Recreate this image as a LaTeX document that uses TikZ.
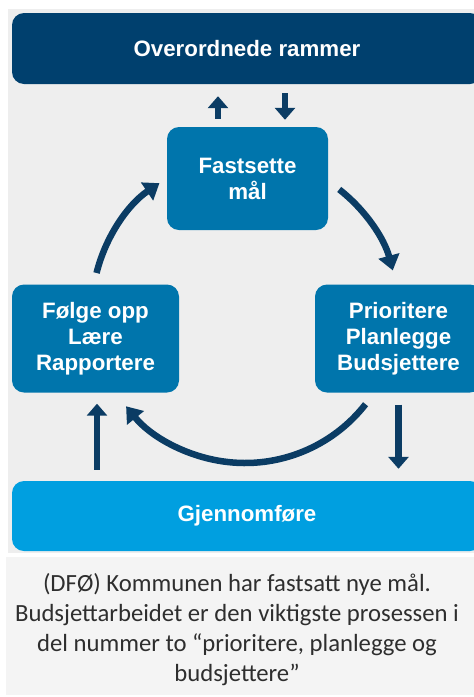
\documentclass[tikz,border=0pt]{standalone}
\usepackage{fontspec}
\setmainfont{Liberation Sans}
\newfontfamily\captionfont{Carlito}
\usetikzlibrary{
    arrows.meta,
    calc
}
\definecolor{navy}{HTML}{00406E}
\definecolor{stegblue}{HTML}{0075AC}
\definecolor{lightblue}{HTML}{009FE0}
\definecolor{arrowblue}{HTML}{0B3C64}
\definecolor{panel}{HTML}{EEEEEE}
\definecolor{capbg}{HTML}{F4F4F4}
\definecolor{captext}{HTML}{2E2E2E}

\tikzset{
    boks/.style={rounded corners=12pt, text=white, align=center, inner sep=0pt,
        font=\fontsize{22.3}{26}\selectfont\bfseries},
    ramme/.style={boks, fill=navy, minimum width=470pt, minimum height=71pt},
    steg/.style={boks, fill=stegblue, minimum width=167pt, minimum height=108pt},
    pil/.style={draw=arrowblue, line width=6.5pt, -{Triangle[width=20pt,length=12pt]}},
    ringpil/.style={draw=arrowblue, line width=6.5pt, -{Triangle[width=21pt,length=15pt]}}
}

\begin{document}
\begin{tikzpicture}[x=1pt, y=-1pt]
                        \useasboundingbox (0, 0) rectangle (474, 697);
                        \clip (0, 0) rectangle (474, 697);
                        \fill[panel] (8, 9) rectangle (474, 553);
                        \fill[capbg] (6, 557) rectangle (474, 695);
                        \node[ramme] (ramme) at (247, 48.5) {Overordnede rammer};
                        \node[steg, minimum width=161pt, minimum height=103pt] (mal) at (247.5, 178.5) {Fastsette\\mål};
                        \node[steg] (folge) at (95.5, 338.5) {Følge opp\\Lære\\Rapportere};
                        \node[steg] (prio) at (398.5, 338.5) {Prioritere\\Planlegge\\Budsjettere};
                        \node[ramme, fill=lightblue, minimum height=70pt] (gjen) at (247, 516) {Gjennomføre};
                        \coordinate (ring) at (245, 310);
                        % til og fra rammene
                        \draw[pil] ($(mal.north)+(-29.5,-8)$) -- ($(ramme.south)+(-29,12)$);
                        \draw[pil] ($(ramme.south)+(38,9)$) -- ($(mal.north)+(37.5,-7)$);
                        % sirkelen
                        \draw[ringpil] ($(ring)+(166:153pt)$) arc[start angle=166, end angle=124, radius=153pt];
                        \draw[ringpil] ($(ring)+(52:153pt)$) arc[start angle=52, end angle=15, radius=153pt];
                        \draw[ringpil] ($(ring)+(-38:153pt)$) arc[start angle=-38, end angle=-141, radius=153pt];
                        % gjennomføring
                        \draw[pil] ($(gjen.north -| folge.south)+(1.5,-11)$) -- ($(folge.south)+(1.5,11)$);
                        \draw[pil] ($(prio.south)+(0,12)$) -- ($(gjen.north -| prio.south)+(0,-12)$);
                        \node[font=\captionfont\fontsize{24.7}{30.2}\selectfont, text=captext, align=center] (tekst) at (237, 629.5)
                        {(DFØ) Kommunen har fastsatt nye mål.\\Budsjettarbeidet er den viktigste prosessen i\\del nummer to “prioritere, planlegge og\\budsjettere”};
                    \end{tikzpicture}
\end{document}
